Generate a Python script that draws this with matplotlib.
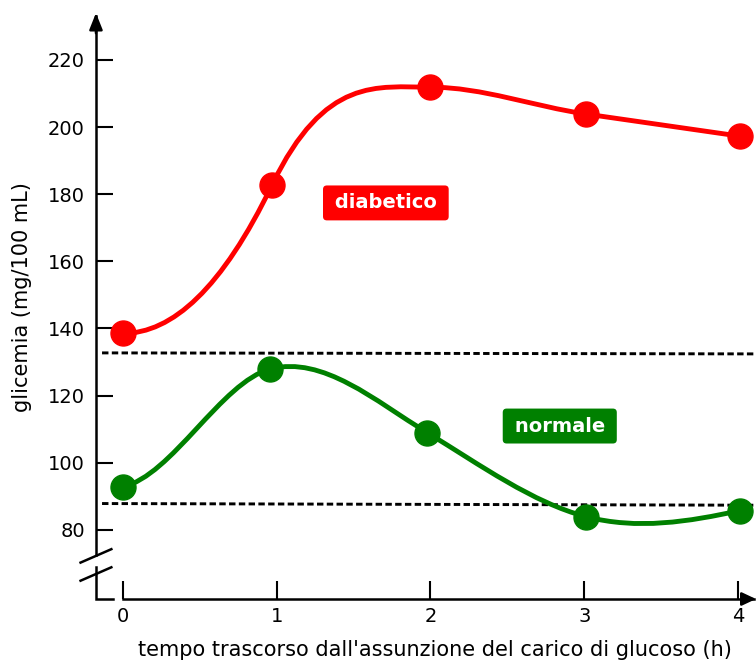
"""Curva da carico di glucosio: soggetto diabetico vs normale."""

import matplotlib
matplotlib.use("Agg")
import matplotlib.pyplot as plt
from matplotlib.path import Path
from matplotlib.patches import PathPatch

plt.rcParams["font.family"] = ["DejaVu Sans"]

# dati
ore_diab = [0.0, 0.97, 2.0, 3.01, 4.01]
glic_diab = [138.5, 182.7, 211.9, 203.9, 197.3]
ore_norm = [0.0, 0.96, 1.98, 3.01, 4.01]
glic_norm = [92.8, 127.9, 108.9, 83.9, 85.7]
# pendenze delle tangenti della curva morbida in ogni punto
tang_diab = [0.0, 95.0, 0.0, -6.6, -6.6]
tang_norm = [10.0, 12.0, -28.0, -12.0, 10.0]
# soglie tratteggiate (inizio, fine)
soglia_alta = [132.7, 132.4]
soglia_bassa = [87.8, 87.3]
y_ticks = [80, 100, 120, 140, 160, 180, 200, 220]
x_ticks = [0, 1, 2, 3, 4]

ROSSO = "#ff0000"
VERDE = "#008000"


def curva(ax, xs, ys, ms, color):
    verts = [(xs[0], ys[0])]
    codes = [Path.MOVETO]
    for i in range(len(xs) - 1):
        dx = (xs[i + 1] - xs[i]) / 3.0
        verts += [
            (xs[i] + dx, ys[i] + ms[i] * dx),
            (xs[i + 1] - dx, ys[i + 1] - ms[i + 1] * dx),
            (xs[i + 1], ys[i + 1]),
        ]
        codes += [Path.CURVE4] * 3
    ax.add_patch(PathPatch(Path(verts, codes), fill=False, ec=color,
                           lw=3.5, capstyle="round", zorder=3))
    ax.plot(xs, ys, "o", color=color, markersize=18, zorder=4)


fig = plt.figure(figsize=(7.56, 6.61), dpi=100)
ax = fig.add_axes([0, 0, 1, 1])
ax.set_xlim(-0.797, 4.115)
ax.set_ylim(40.87, 237.88)

x_asse_y = -0.1735
y_asse_x = 59.35
y_interr_alto = 72.4
y_interr_basso = 68.9

for s in ["top", "right"]:
    ax.spines[s].set_visible(False)
ax.spines["left"].set_position(("data", x_asse_y))
ax.spines["left"].set_bounds(y_interr_alto, 233.0)
ax.spines["bottom"].set_position(("data", y_asse_x))
ax.spines["bottom"].set_bounds(0, 4.10)
for s in ["left", "bottom"]:
    ax.spines[s].set_linewidth(1.8)

ax.set_xticks(x_ticks)
ax.set_yticks(y_ticks)
ax.tick_params(axis="y", direction="in", length=12, width=1.5,
               labelsize=14, pad=8)
ax.tick_params(axis="x", direction="in", length=13, width=1.5,
               labelsize=14, pad=6)

# frecce degli assi
ax.annotate("", xy=(x_asse_y, 234.0), xytext=(x_asse_y, 228.0),
            arrowprops=dict(arrowstyle="-|>,head_length=0.4,head_width=0.16",
                            mutation_scale=25, color="black", lw=1.8,
                            shrinkA=0, shrinkB=0))
ax.annotate("", xy=(4.115, y_asse_x), xytext=(4.05, y_asse_x),
            arrowprops=dict(arrowstyle="-|>,head_length=0.34,head_width=0.16",
                            mutation_scale=25, color="black", lw=1.8,
                            shrinkA=0, shrinkB=0))

# tratto inferiore dell'asse y con piede
ax.plot([x_asse_y, x_asse_y, -0.061], [y_interr_basso, y_asse_x, y_asse_x],
        color="black", lw=1.8, solid_joinstyle="miter", clip_on=False)
# segni di interruzione
for y0 in (y_interr_alto - 2.2, y_interr_basso - 4.1):
    ax.plot([x_asse_y - 0.10, x_asse_y + 0.10], [y0, y0 + 4.0],
            color="black", lw=1.8)

# soglie tratteggiate
for soglia in (soglia_alta, soglia_bassa):
    ax.plot([-0.134, 4.115], soglia, color="black", lw=2.1,
            dashes=(2.2, 1.15), zorder=2)

curva(ax, ore_diab, glic_diab, tang_diab, ROSSO)
curva(ax, ore_norm, glic_norm, tang_norm, VERDE)

box = "round,pad=0.41,rounding_size=0.2"
ax.text(1.71, 177.4, "\u2009diabetico\u2009", color="white", fontsize=14,
        fontweight="bold", ha="center", va="center",
        bbox=dict(boxstyle=box, fc=ROSSO, ec="none"))
ax.text(2.84, 110.9, "\u2009normale\u2009", color="white", fontsize=14,
        fontweight="bold", ha="center", va="center",
        bbox=dict(boxstyle=box, fc=VERDE, ec="none"))

fig.text(22 / 756, 1 - 297 / 661, "glicemia (mg/100 mL)", rotation=90,
         fontsize=15, ha="center", va="center")
fig.text(435 / 756, 1 - 650 / 661,
         "tempo trascorso dall'assunzione del carico di glucoso (h)",
         fontsize=15, ha="center", va="center")

fig.savefig("out.png", dpi=100)
